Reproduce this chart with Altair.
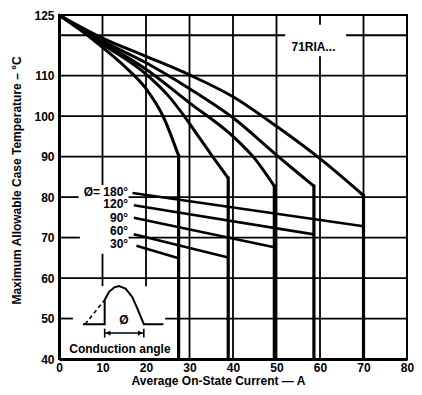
import altair as alt
import pandas as pd

FONT = "Liberation Sans"

# ---- data ----
angles = ["30°", "60°", "90°", "120°", "180°"]

x30 = [0, 5, 10, 15, 20, 24, 27.5]
y30 = [125, 121.2, 117, 112.4, 106.8, 99.8, 90.2]
x60 = [0, 10, 20, 25, 28.8, 31.6, 35.2, 38.9]
y60 = [125, 117.8, 110.4, 105.2, 100, 95.7, 90.2, 84.7]
x90 = [0, 10, 20, 30, 40, 45, 49.5]
y90 = [125, 118.2, 111.6, 103.3, 95, 89.5, 82.7]
x120 = [0, 10, 20, 30, 40, 50, 55, 58.6]
y120 = [125, 118.6, 113.2, 106.8, 99.6, 90.4, 85.9, 82.7]
x180 = [0, 10, 20, 30, 40, 50, 60, 70]
y180 = [125, 119.3, 114.8, 110.2, 104.8, 97.5, 89.5, 80.4]
drop_bottom = 40

low_x1 = [17.8, 17.2, 17.2, 17.2, 16.9]
low_y1 = [68.0, 70.8, 74.9, 78.0, 81.0]
low_x2 = [27.5, 38.9, 49.5, 58.6, 70]
low_y2 = [64.9, 65.1, 67.6, 70.8, 72.8]

label_text = ["30°", "60°", "90°", "120°", "Ø= 180°"]
label_x = [15.9, 15.9, 15.9, 15.9, 15.9]
label_y = [68.4, 71.7, 74.9, 78.2, 81.3]

vgrid_x = [10, 10, 20, 30, 40, 50, 60, 60, 70]
vgrid_y1 = [83, 58, 58, 40, 40, 40, 40, 122.6, 40]
vgrid_y2 = [125, 66, 125, 125, 125, 125, 114.8, 125, 125]
hgrid_y = [50, 50, 60, 70, 70, 80, 80, 90, 100, 110, 120, 120]
hgrid_x1 = [0, 24.4, 0, 0, 16, 0, 16, 0, 0, 0, 0, 66]
hgrid_x2 = [3.2, 80, 80, 4.8, 80, 4.5, 80, 80, 80, 80, 52, 80]

x_ticks = [0, 10, 20, 30, 40, 50, 60, 70, 80]
y_ticks = [40, 50, 60, 70, 80, 90, 100, 110, 125]

# inset symbol (conduction angle sketch)
wave_x = [5.5, 10.5, 10.5, 11.5, 12.7, 13.8, 15.3, 16.8, 18.0, 19.5, 24.0]
wave_y = [48.6, 48.6, 54.6, 56.6, 57.7, 58.0, 57.4, 55.4, 52.5, 48.6, 48.6]
dash_x = [6.0, 10.5]
dash_y = [48.6, 54.6]
arrow_x = [10.5, 19.5]
arrow_y = 46.4
arrow_tick = [45.3, 47.5]

# ---- tables ----
curve_rows, drop_rows = [], []
for a, xs_, ys_ in zip(angles, [x30, x60, x90, x120, x180], [y30, y60, y90, y120, y180]):
    for i, (xv, yv) in enumerate(zip(xs_, ys_)):
        curve_rows.append({"angle": a, "i": i, "x": xv, "y": yv})
    drop_rows.append({"x": xs_[-1], "x2": xs_[-1], "y": ys_[-1], "y2": drop_bottom})
curves = pd.DataFrame(curve_rows)
drops = pd.DataFrame(drop_rows)

lows = pd.DataFrame({"angle": angles, "x": low_x1, "y": low_y1, "x2": low_x2, "y2": low_y2})
labels = pd.DataFrame({"t": label_text, "x": label_x, "y": label_y})

grid = pd.concat([
    pd.DataFrame({"x": vgrid_x, "x2": vgrid_x, "y": vgrid_y1, "y2": vgrid_y2}),
    pd.DataFrame({"x": hgrid_x1, "x2": hgrid_x2, "y": hgrid_y, "y2": hgrid_y}),
], ignore_index=True)

wave = pd.DataFrame({"i": range(len(wave_x)), "x": wave_x, "y": wave_y})
dash = pd.DataFrame({"i": range(len(dash_x)), "x": dash_x, "y": dash_y})
arrow = pd.DataFrame({"x": [arrow_x[0]], "x2": [arrow_x[1]], "y": [arrow_y], "y2": [arrow_y]})
aticks = pd.DataFrame({"x": arrow_x, "x2": arrow_x, "y": [arrow_tick[0]] * 2, "y2": [arrow_tick[1]] * 2})
aheads = pd.DataFrame({"x": [11.3, 18.7], "y": [arrow_y] * 2, "s": ["triangle-left", "triangle-right"]})

texts = pd.DataFrame({
    "t": ["71RIA...", "Ø", "Conduction angle"],
    "x": [58.5, 14.9, 14.0],
    "y": [117.2, 49.6, 42.4],
})

xs = alt.Scale(domain=[0, 80], nice=False, zero=False)
ys = alt.Scale(domain=[40, 125], nice=False, zero=False)

x_axis = alt.Axis(values=x_ticks, title="Average On-State Current — A",
                  titleX=159, titleY=28, titleBaseline="bottom", titleAlign="center",
                  labelPadding=3)
y_axis = alt.Axis(values=y_ticks, title="Maximum Allowable Case Temperature – °C",
                  titleX=-43, titleY=165, titleAlign="center", titleBaseline="middle",
                  titleAngle=-90, labelPadding=5)


def X(f="x"):
    return alt.X(f"{f}:Q", scale=xs, axis=x_axis)


def Y(f="y"):
    return alt.Y(f"{f}:Q", scale=ys, axis=y_axis)


gridl = alt.Chart(grid).mark_rule(color="black", strokeWidth=1.8).encode(
    x=X(), x2="x2:Q", y=Y(), y2="y2:Q")

curvel = alt.Chart(curves).mark_line(color="black", strokeWidth=3,
                                     interpolate="monotone").encode(
    x=X(), y=Y(), detail="angle:N", order="i:Q")

dropl = alt.Chart(drops).mark_rule(color="black", strokeWidth=3.2, strokeCap="square").encode(
    x=X(), x2="x2:Q", y=Y(), y2="y2:Q")

lowl = alt.Chart(lows).mark_rule(color="black", strokeWidth=2.6).encode(
    x=X(), y=Y(), x2="x2:Q", y2="y2:Q")

labl = alt.Chart(labels).mark_text(align="right", baseline="middle", font=FONT,
                                   fontSize=12, fontWeight="bold", color="black").encode(
    x=X(), y=Y(), text="t:N")

wavel = alt.Chart(wave).mark_line(color="black", strokeWidth=2).encode(x=X(), y=Y(), order="i:Q")
dashl = alt.Chart(dash).mark_line(color="black", strokeWidth=1.6, strokeDash=[4, 3]).encode(
    x=X(), y=Y(), order="i:Q")
arrowl = alt.Chart(arrow).mark_rule(color="black", strokeWidth=1.5).encode(
    x=X(), y=Y(), x2="x2:Q", y2="y2:Q")
atickl = alt.Chart(aticks).mark_rule(color="black", strokeWidth=1.6).encode(
    x=X(), y=Y(), x2="x2:Q", y2="y2:Q")
aheadl = alt.Chart(aheads).mark_point(filled=True, color="black", size=28, opacity=1).encode(
    x=X(), y=Y(), shape=alt.Shape("s:N", scale=None, legend=None))

textl = alt.Chart(texts).mark_text(align="center", baseline="middle", font=FONT,
                                  fontSize=12, fontWeight="bold", color="black").encode(
    x=X(), y=Y(), text="t:N")

chart = alt.layer(
    gridl, curvel, dropl, lowl, labl, wavel, dashl, arrowl, atickl, aheadl, textl
).properties(
    width=348, height=344,
    autosize=alt.AutoSizeParams(type="none"),
    padding={"left": 51, "top": 7, "right": 7, "bottom": 28},
    background="white",
).configure_view(
    stroke="black", strokeWidth=2
).configure_axis(
    domainColor="black", domainWidth=3, grid=False, ticks=False, tickSize=0,
    labelFont=FONT, labelFontSize=12, labelFontWeight="bold", labelColor="black",
    labelFlush=False, labelOverlap=False,
    titleFont=FONT, titleFontSize=12, titleFontWeight="bold", titleColor="black",
)

chart.save("out.html", embed_options={"renderer": "svg", "actions": False})
